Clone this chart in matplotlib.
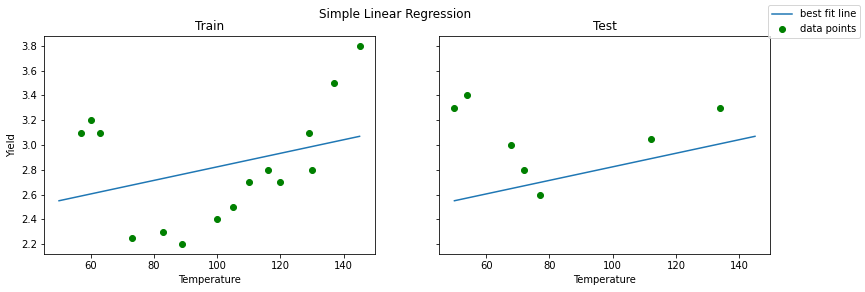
import numpy as np
import matplotlib.pyplot as plt

# Train data
train_temp = [57, 60, 63, 73, 83, 89, 100, 105, 110, 116, 120, 129, 130, 137, 145]
train_yield = [3.1, 3.2, 3.1, 2.25, 2.3, 2.2, 2.4, 2.5, 2.7, 2.8, 2.7, 3.1, 2.8, 3.5, 3.8]

# Test data
test_temp = [50, 54, 68, 72, 77, 112, 134]
test_yield = [3.3, 3.4, 3.0, 2.8, 2.6, 3.05, 3.3]

# Best fit line endpoints
line_temp = [50, 145]
line_yield = [2.55, 3.07]

fig, (ax1, ax2) = plt.subplots(1, 2, sharey=True, figsize=(865 / 72, 292 / 72), dpi=72)
fig.subplots_adjust(left=44 / 865, right=770 / 865, top=1 - 36 / 292, bottom=1 - 254 / 292, wspace=0.196)

ax1.plot(line_temp, line_yield, label="best fit line")
ax1.scatter(train_temp, train_yield, color="green", label="data points")
ax1.set_title("Train")
ax1.set_xlabel("Temperature")
ax1.set_ylabel("Yield")

ax2.plot(line_temp, line_yield)
ax2.scatter(test_temp, test_yield, color="green")
ax2.set_title("Test")
ax2.set_xlabel("Temperature")

fig.suptitle("Simple Linear Regression", x=395 / 865, y=0.972)
fig.legend(loc="upper right")

fig.savefig("out.png", dpi=72)
